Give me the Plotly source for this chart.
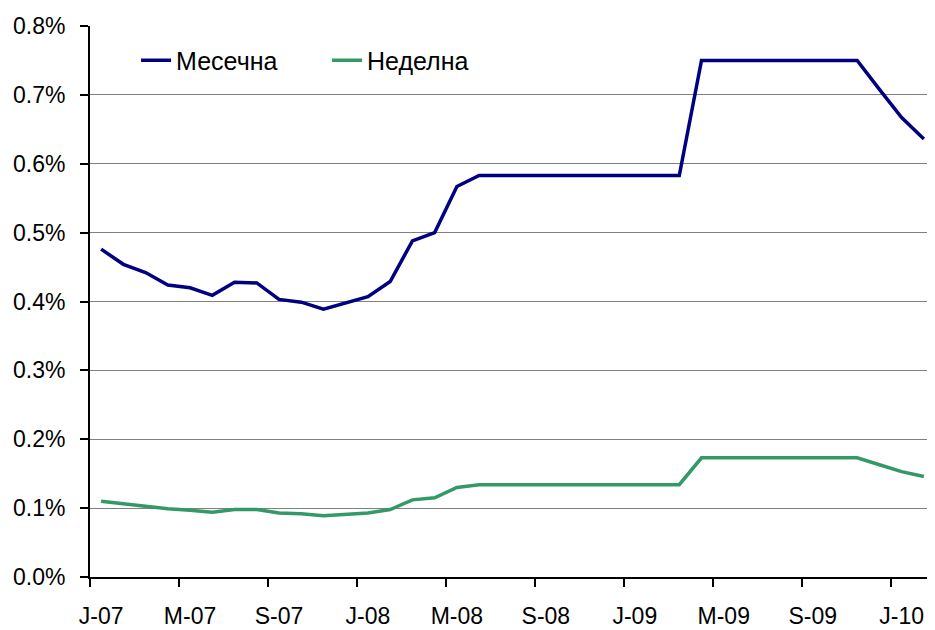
import plotly.graph_objects as go

months = list(range(38))
tick_pos = [0, 4, 8, 12, 16, 20, 24, 28, 32, 36]
tick_labels = ["J-07", "M-07", "S-07", "J-08", "M-08", "S-08", "J-09", "M-09", "S-09", "J-10"]
boundary_ticks = [-0.5, 3.5, 7.5, 11.5, 15.5, 19.5, 23.5, 27.5, 31.5, 35.5]

monthly = [0.476, 0.454, 0.442, 0.424, 0.420, 0.409, 0.428, 0.427, 0.403, 0.399,
           0.389, 0.398, 0.407, 0.429, 0.488, 0.500, 0.567, 0.583,
           0.583, 0.583, 0.583, 0.583, 0.583, 0.583, 0.583, 0.583, 0.583,
           0.750, 0.750, 0.750, 0.750, 0.750, 0.750, 0.750, 0.750,
           0.708, 0.667, 0.636]
weekly = [0.110, 0.106, 0.103, 0.099, 0.097, 0.094, 0.098, 0.098, 0.093, 0.092,
          0.089, 0.091, 0.093, 0.098, 0.112, 0.115, 0.130, 0.134,
          0.134, 0.134, 0.134, 0.134, 0.134, 0.134, 0.134, 0.134, 0.134,
          0.173, 0.173, 0.173, 0.173, 0.173, 0.173, 0.173, 0.173,
          0.163, 0.153, 0.146]

y_ticks = [0, 0.1, 0.2, 0.3, 0.4, 0.5, 0.6, 0.7, 0.8]
y_labels = ["0.0%", "0.1%", "0.2%", "0.3%", "0.4%", "0.5%", "0.6%", "0.7%", "0.8%"]

fig = go.Figure()
fig.add_trace(go.Scatter(x=months, y=monthly, name="Месечна", mode="lines",
                         line=dict(color="#000080", width=3.5), xaxis="x", yaxis="y"))
fig.add_trace(go.Scatter(x=months, y=weekly, name="Неделна", mode="lines",
                         line=dict(color="#339966", width=3.5), xaxis="x2", yaxis="y"))

fnt = dict(family="Liberation Sans, Arial, sans-serif", size=23, color="black")
fig.update_layout(
    width=927, height=622,
    margin=dict(l=82, r=0, t=18, b=53),
    paper_bgcolor="white", plot_bgcolor="white",
    font=fnt,
    showlegend=True,
    legend=dict(orientation="h", x=0.0545, y=0.979, xanchor="left", yanchor="top",
                font=dict(family="Liberation Sans, Arial, sans-serif", size=25, color="black"),
                bgcolor="rgba(0,0,0,0)", entrywidth=146, entrywidthmode="pixels"),
    xaxis=dict(range=[-0.5, 37.5], tickmode="array", tickvals=tick_pos, ticktext=tick_labels,
               ticks="", showgrid=False, zeroline=False, showline=False, automargin=False,
               ticklabelstandoff=23, tickfont=fnt),
    xaxis2=dict(range=[-0.5, 37.5], overlaying="x", side="bottom", anchor="y",
                tickmode="array", tickvals=boundary_ticks, showticklabels=False,
                ticks="outside", ticklen=8, tickwidth=2, tickcolor="black", automargin=False,
                showgrid=False, zeroline=False, showline=True, linecolor="black", linewidth=2),
    yaxis=dict(range=[0, 0.8], tickmode="array", tickvals=y_ticks, ticktext=y_labels,
               ticks="outside", ticklen=8, tickwidth=2, tickcolor="black", automargin=False,
               showgrid=True, gridcolor="#808080", gridwidth=1, zeroline=False,
               showline=True, linecolor="black", linewidth=2, ticklabelstandoff=10,
               tickfont=fnt),
)
fig.write_html("out.html")
